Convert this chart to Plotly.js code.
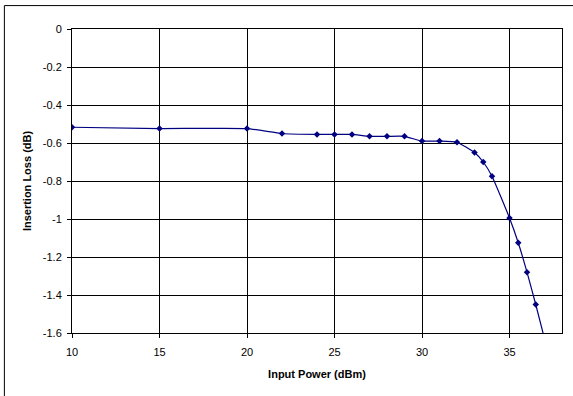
<!DOCTYPE html>
<html>
<head>
<meta charset="utf-8">
<script src="https://cdn.plot.ly/plotly-3.0.1.min.js"></script>
<style>
html,body{margin:0;padding:0;background:#fff;}
#chart{width:573px;height:396px;}
</style>
</head>
<body>
<div id="chart"></div>
<script>
const inputPower = [10, 15, 20, 22, 24, 25, 26, 27, 28, 29, 30, 31, 32, 33, 33.5, 34, 35, 35.5, 36, 36.5, 37];
const insertionLoss = [-0.517, -0.524, -0.524, -0.55, -0.555, -0.555, -0.555, -0.565, -0.565, -0.565, -0.59, -0.59, -0.596, -0.65, -0.70, -0.775, -0.995, -1.125, -1.28, -1.45, -1.63];
const xTickVals = [10, 15, 20, 25, 30, 35];
const xTickLabels = ["10", "15", "20", "25", "30", "35"];
const yTickVals = [0, -0.2, -0.4, -0.6, -0.8, -1, -1.2, -1.4, -1.6];
const yTickLabels = ["0", "-0.2", "-0.4", "-0.6", "-0.8", "-1", "-1.2", "-1.4", "-1.6"];

const font = {family: "Liberation Sans, Arial, sans-serif", size: 11, color: "#000"};

const trace = {
  x: inputPower,
  y: insertionLoss,
  type: "scatter",
  mode: "lines+markers",
  line: {color: "#000080", width: 1.2, shape: "spline", smoothing: 0.4},
  marker: {color: "#000080", symbol: "diamond", size: 5},
  cliponaxis: true,
  hoverinfo: "none"
};

const layout = {
  width: 573,
  height: 396,
  margin: {l: 72, r: 11, t: 29, b: 63},
  paper_bgcolor: "#fff",
  plot_bgcolor: "#fff",
  showlegend: false,
  font: font,
  xaxis: {
    range: [10, 38],
    tickvals: xTickVals,
    ticktext: xTickLabels,
    ticks: "outside",
    ticklen: 4,
    tickcolor: "#000",
    ticklabelstandoff: 5,
    showgrid: true,
    gridcolor: "#000",
    gridwidth: 1,
    zeroline: false,
    showline: true,
    linecolor: "#000",
    linewidth: 1,
    mirror: true,
    tickfont: {family: font.family, size: 11, color: "#000"},
    title: {text: "Input Power (dBm)", font: {family: font.family, size: 11, color: "#000", weight: "bold"}, standoff: 13}
  },
  yaxis: {
    range: [-1.6, 0],
    tickvals: yTickVals,
    ticktext: yTickLabels,
    ticks: "outside",
    ticklen: 4,
    tickcolor: "#000",
    ticklabelstandoff: 3,
    showgrid: true,
    gridcolor: "#000",
    gridwidth: 1,
    zeroline: false,
    showline: true,
    linecolor: "#000",
    linewidth: 1,
    mirror: true,
    tickfont: {family: font.family, size: 11, color: "#000"},
    title: {text: "Insertion Loss (dB)", font: {family: font.family, size: 11, color: "#000", weight: "bold"}, standoff: 8}
  },
  shapes: [{
    type: "rect",
    xref: "paper", yref: "paper",
    x0: -0.138, x1: 1.1,
    y0: -0.3, y1: 1.077,
    line: {color: "#000", width: 1},
    fillcolor: "rgba(0,0,0,0)",
    layer: "below"
  }]
};

Plotly.newPlot("chart", [trace], layout, {displayModeBar: false, staticPlot: true});
</script>
</body>
</html>
